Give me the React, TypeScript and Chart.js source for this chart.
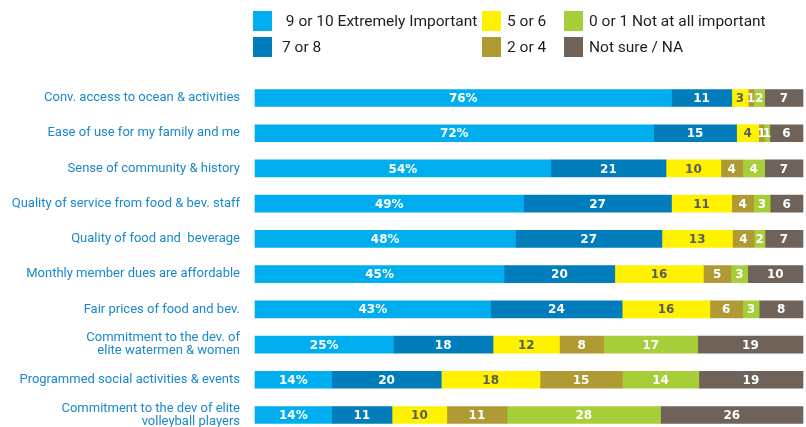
import React, { useEffect, useRef } from "react";
import { Chart, registerables } from "chart.js";

Chart.register(...registerables);

const categories: (string | string[])[] = [
  "Conv. access to ocean & activities",
  "Ease of use for my family and me",
  "Sense of community & history",
  "Quality of service from food & bev. staff",
  "Quality of food and  beverage",
  "Monthly member dues are affordable",
  "Fair prices of food and bev.",
  ["Commitment to the dev. of", "elite watermen & women"],
  "Programmed social activities & events",
  ["Commitment to the dev of elite", "volleyball players"],
];

const seriesNames = [
  " 9 or 10 Extremely Important",
  "7 or 8",
  "5 or 6",
  "2 or 4",
  "0 or 1 Not at all important",
  "Not sure / NA",
];

const s9or10 = [76, 72, 54, 49, 48, 45, 43, 25, 14, 14];
const s7or8 = [11, 15, 21, 27, 27, 20, 24, 18, 20, 11];
const s5or6 = [3, 4, 10, 11, 13, 16, 16, 12, 18, 10];
const s2or4 = [1, 1, 4, 4, 4, 5, 6, 8, 15, 11];
const s0or1 = [2, 1, 4, 3, 2, 3, 3, 17, 14, 28];
const sNotSure = [7, 6, 7, 6, 7, 10, 8, 19, 19, 26];

const seriesValues = [s9or10, s7or8, s5or6, s2or4, s0or1, sNotSure];
const colors = ["#00AEEF", "#007DBA", "#FFF200", "#B09A33", "#A6CE39", "#6E6259"];
const labelColors = ["#ffffff", "#ffffff", "#5b5b5b", "#ffffff", "#ffffff", "#ffffff"];

// each row's responses scaled to its own total so every bar spans the full width
const rowTotals = categories.map((_, i) =>
  seriesValues.reduce((sum, s) => sum + s[i], 0)
);

// legend layout: [dataset index, column, row]
const legendOrder = [
  [0, 0, 0],
  [2, 1, 0],
  [4, 2, 0],
  [1, 0, 1],
  [3, 1, 1],
  [5, 2, 1],
];

const legendPlugin = {
  id: "customLegend",
  afterDraw(chart: any) {
    const ctx = chart.ctx;
    const boxX = [253, 482, 564];
    const textX = [282, 507, 589];
    const rowY = [21, 47];
    ctx.save();
    ctx.font = "15.5px Roboto";
    ctx.textBaseline = "middle";
    ctx.textAlign = "left";
    legendOrder.forEach(([di, c, r]) => {
      const ds = chart.data.datasets[di];
      ctx.fillStyle = ds.backgroundColor;
      ctx.fillRect(boxX[c], rowY[r] - 10, 19, 20);
      ctx.fillStyle = "#1e1e1e";
      ctx.fillText(ds.label, textX[c], rowY[r] + 1);
    });
    ctx.restore();
  },
};

const valueLabelPlugin = {
  id: "valueLabels",
  afterDatasetsDraw(chart: any) {
    const ctx = chart.ctx;
    ctx.save();
    ctx.font = "bold 12px 'DejaVu Sans'";
    ctx.textAlign = "center";
    ctx.textBaseline = "middle";
    chart.data.datasets.forEach((ds: any, di: number) => {
      const meta = chart.getDatasetMeta(di);
      meta.data.forEach((bar: any, i: number) => {
        const v = seriesValues[di][i];
        const txt = di === 0 ? v + "%" : String(v);
        const cx = (bar.x + bar.base) / 2;
        ctx.fillStyle = labelColors[di];
        ctx.fillText(txt, cx, bar.y + 1);
      });
    });
    ctx.restore();
  },
};

export default function App() {
  const ref = useRef<HTMLCanvasElement>(null);
  useEffect(() => {
    document.body.style.margin = "0";
    const chart = new Chart(ref.current!, {
      type: "bar",
      data: {
        labels: categories,
        datasets: seriesNames.map((n, i) => ({
          label: n,
          data: seriesValues[i].map((v, j) => (v / rowTotals[j]) * 100),
          backgroundColor: colors[i],
          borderWidth: 0,
          barThickness: 17,
          clip: false as any,
        })),
      },
      options: {
        indexAxis: "y",
        animation: false,
        responsive: false,
        layout: { padding: { top: 98, bottom: 12, left: 0, right: 3 } },
        plugins: { legend: { display: false }, tooltip: { enabled: false } },
        scales: {
          x: { stacked: true, min: 0, max: 100, display: false },
          y: {
            stacked: true,
            offset: false,
            grid: { display: false, drawTicks: false },
            border: { display: false },
            ticks: {
              padding: 15,
              color: "#1a88c9",
              font: { family: "Roboto", size: 13, lineHeight: 1.0 },
              autoSkip: false,
            },
            afterFit(scale: any) {
              scale.width = 255;
              scale.paddingTop = 0;
              scale.paddingBottom = 0;
            },
          },
        },
      },
      plugins: [legendPlugin, valueLabelPlugin],
    });
    return () => chart.destroy();
  }, []);
  return (
    <div style={{ position: "absolute", left: 0, top: 0 }}>
      <canvas ref={ref} width={806} height={427} style={{ display: "block" }} />
    </div>
  );
}
